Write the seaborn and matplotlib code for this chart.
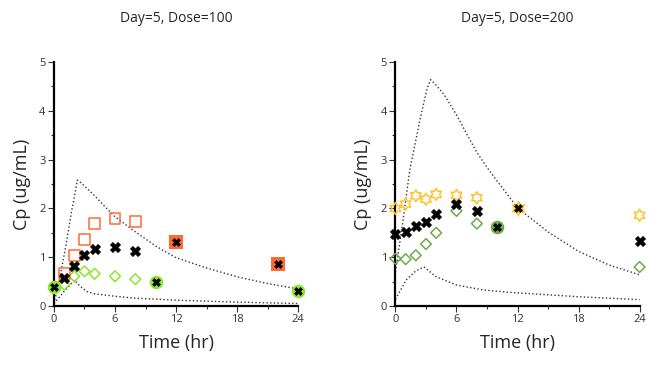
import matplotlib
matplotlib.use("Agg")
import matplotlib.pyplot as plt
import numpy as np
import seaborn as sns
from matplotlib.path import Path
from matplotlib.ticker import MultipleLocator

sns.set_style("ticks")
plt.rcParams["font.family"] = ["Open Sans", "DejaVu Sans"]

# ---- Day 5, dose 100 ----
time_100 = [0, 1, 2, 3, 4, 6, 8, 10, 12, 22, 24]
mean_100 = [0.38, 0.57, 0.82, 1.04, 1.17, 1.20, 1.13, 0.49, 1.32, 0.86, 0.30]
subj_a_100 = [np.nan, 0.67, 1.03, 1.37, 1.69, 1.79, 1.73, np.nan, 1.32, 0.86, np.nan]
subj_b_100 = [0.38, 0.44, 0.61, 0.71, 0.66, 0.61, 0.55, 0.49, np.nan, np.nan, 0.30]

upper_t_100 = [0, 0.6, 1.15, 1.7, 2.3, 2.7, 3.2, 4, 5, 6, 8, 10, 12, 15, 18, 21, 24]
upper_y_100 = [0.05, 0.6, 1.21, 1.9, 2.58, 2.52, 2.42, 2.26, 2.04, 1.83, 1.52, 1.23, 0.99, 0.78, 0.6, 0.46, 0.35]
lower_t_100 = [0, 1, 2, 2.5, 3.2, 4, 6, 8, 12, 18, 24]
lower_y_100 = [0.05, 0.3, 0.53, 0.42, 0.3, 0.25, 0.2, 0.16, 0.12, 0.08, 0.05]

# ---- Day 5, dose 200 ----
time_200 = [0, 1, 2, 3, 4, 6, 8, 10, 12, 24]
mean_200 = [1.48, 1.52, 1.65, 1.72, 1.89, 2.10, 1.95, 1.61, 2.01, 1.33]
subj_a_200 = [2.0, 2.09, 2.26, 2.19, 2.29, 2.27, 2.22, np.nan, 2.01, 1.86]
subj_b_200 = [0.97, 0.96, 1.04, 1.27, 1.50, 1.95, 1.69, 1.61, np.nan, 0.80]

upper_t_200 = [0, 0.75, 1.4, 2.4, 3.1, 3.45, 3.9, 4.8, 6, 7, 8, 9, 10, 12, 15, 18, 21, 24]
upper_y_200 = [0.7, 1.76, 2.78, 3.81, 4.45, 4.64, 4.55, 4.33, 3.92, 3.53, 3.15, 2.84, 2.56, 2.01, 1.52, 1.12, 0.84, 0.64]
lower_t_200 = [0, 1.08, 2.0, 2.8, 3.4, 4, 6, 8.6, 11.2, 18, 24]
lower_y_200 = [0.14, 0.54, 0.72, 0.80, 0.7, 0.6, 0.43, 0.33, 0.28, 0.19, 0.13]

titles = ["Day=5, Dose=100", "Day=5, Dose=200"]

# star of david marker
ang_out = np.deg2rad(90 + np.arange(6) * 60)
ang_in = ang_out + np.deg2rad(30)
verts = []
for a, b in zip(ang_out, ang_in):
    verts.append((np.cos(a), np.sin(a)))
    verts.append((0.577 * np.cos(b), 0.577 * np.sin(b)))
verts.append(verts[0])
hexagram = Path(verts, closed=True)


def draw_panel(ax, t, mean, sa, sb, ut, uy, lt, ly, col_a, mk_a, col_b, title):
    t = np.array(t)
    mean = np.array(mean)
    sa = np.array(sa)
    sb = np.array(sb)

    sns.lineplot(x=ut, y=uy, ax=ax, color="#333333", linestyle=":", linewidth=1)
    sns.lineplot(x=lt, y=ly, ax=ax, color="#333333", linestyle=":", linewidth=1)

    # individual subjects (open markers where both observed)
    open_a = ~np.isnan(sa) & (sa != mean)
    open_b = ~np.isnan(sb) & (sb != mean)
    sns.scatterplot(x=t[open_b], y=sb[open_b], ax=ax, marker="D", s=30,
                    facecolor="none", edgecolor=col_b, linewidth=1.1,
                    zorder=3, clip_on=False)
    sns.scatterplot(x=t[open_a], y=sa[open_a], ax=ax, marker=mk_a,
                    s=60 if mk_a == "s" else 75,
                    facecolor="none", edgecolor=col_a, linewidth=1.1,
                    zorder=3, clip_on=False)

    # single-subject points, drawn filled with the mean cross on top
    only_a = ~np.isnan(sa) & (sa == mean)
    only_b = ~np.isnan(sb) & (sb == mean)
    sns.scatterplot(x=t[only_b], y=sb[only_b], ax=ax, marker="o", s=95,
                    color=col_b, edgecolor=col_b, linewidth=0,
                    zorder=4, clip_on=False)
    sns.scatterplot(x=t[only_a], y=sa[only_a], ax=ax, marker=mk_a,
                    s=95 if mk_a == "s" else 140,
                    color=col_a, edgecolor=col_a, linewidth=0,
                    zorder=4, clip_on=False)

    single = only_a | only_b
    sns.scatterplot(x=t[~single], y=mean[~single], ax=ax, marker="X", s=55,
                    color="black", edgecolor="black", linewidth=0.4,
                    zorder=5, clip_on=False)
    sns.scatterplot(x=t[single], y=mean[single], ax=ax, marker="X", s=35,
                    color="black", edgecolor="black", linewidth=0.3,
                    zorder=5, clip_on=False)

    ax.set_xlim(0, 24)
    ax.set_ylim(0, 5)
    ax.xaxis.set_major_locator(MultipleLocator(6))
    ax.xaxis.set_minor_locator(MultipleLocator(3))
    ax.yaxis.set_major_locator(MultipleLocator(1))
    ax.yaxis.set_minor_locator(MultipleLocator(0.5))
    ax.tick_params(which="major", direction="out", length=4, width=0.8,
                   color="#333333", labelsize=8, labelcolor="#333333", pad=2)
    ax.tick_params(which="minor", direction="out", length=2.5, width=0.8,
                   color="#333333")
    sns.despine(ax=ax)
    for side in ["left", "bottom"]:
        ax.spines[side].set_linewidth(1.6)
        ax.spines[side].set_color("black")

    ax.set_xlabel("Time (hr)", fontsize=13)
    ax.set_ylabel("Cp (ug/mL)", fontsize=13)
    ax.xaxis.set_label_coords(0.5, -0.115)
    ax.yaxis.set_label_coords(-0.095, 0.5)
    ax.set_title(title, fontsize=10, pad=29)


fig = plt.figure(figsize=(6.58, 3.69), dpi=100)
ax1 = fig.add_axes([0.082, 0.1707, 0.371, 0.661])
ax2 = fig.add_axes([0.601, 0.1707, 0.371, 0.661])

draw_panel(ax1, time_100, mean_100, subj_a_100, subj_b_100,
           upper_t_100, upper_y_100, lower_t_100, lower_y_100,
           "#FF6A33", "s", "#8EE62E", titles[0])
draw_panel(ax2, time_200, mean_200, subj_a_200, subj_b_200,
           upper_t_200, upper_y_200, lower_t_200, lower_y_200,
           "#FFC22E", hexagram, "#6FA84A", titles[1])

fig.savefig("out.png", dpi=100)
